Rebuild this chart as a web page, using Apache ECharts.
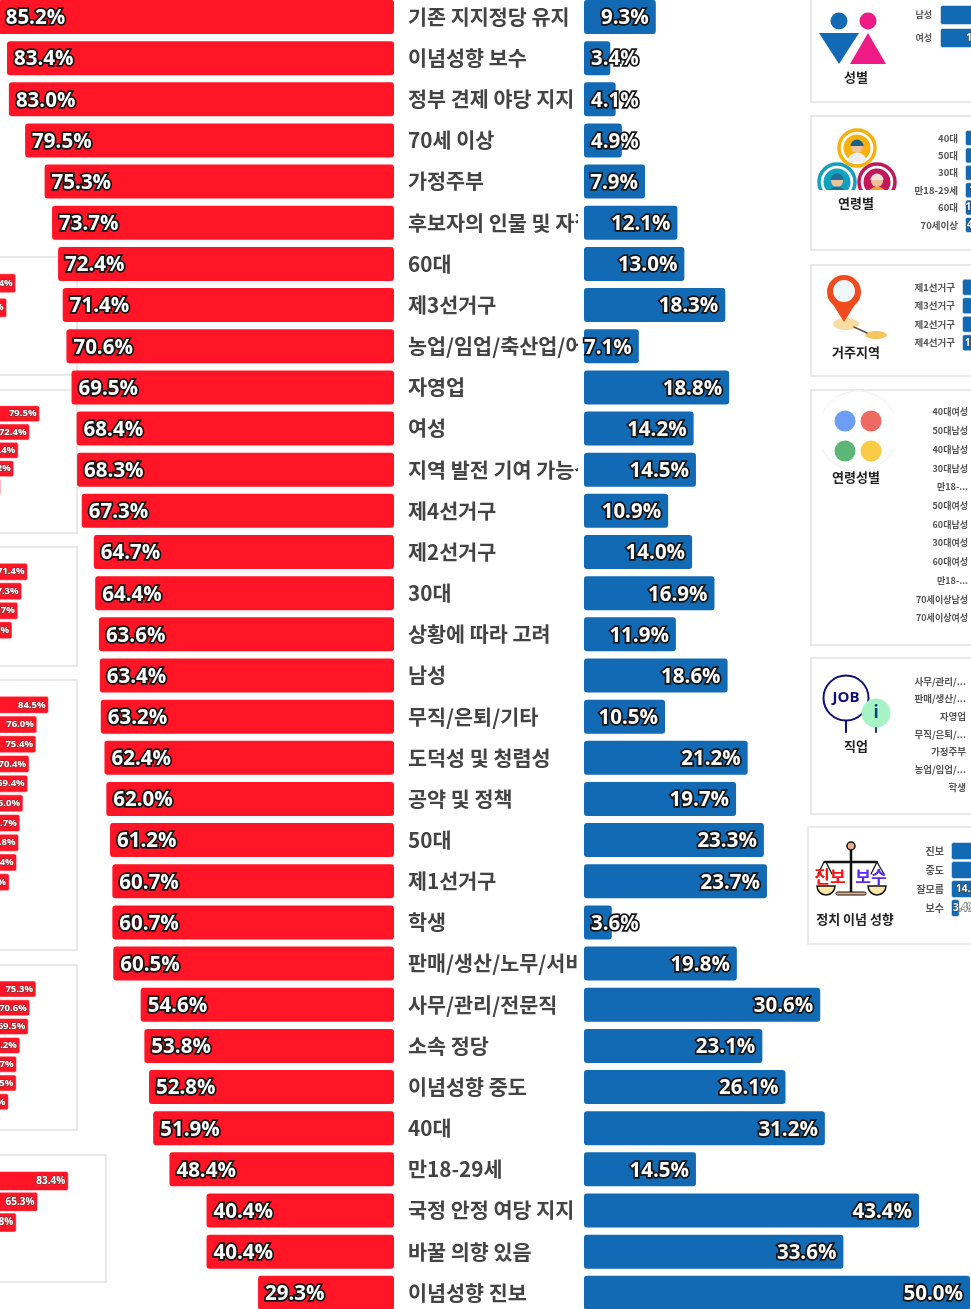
<!DOCTYPE html>
<html>
<head>
<meta charset="utf-8">
<title>chart</title>
<style>
html, body { margin: 0; padding: 0; background: #fff; overflow: hidden; }
#main { width: 971px; height: 1309px; }
</style>
<script src="https://cdn.jsdelivr.net/npm/echarts@6/dist/echarts.min.js"></script>
</head>
<body>
<div id="main"></div>
<script>
// main table
var categories = ['기존 지지정당 유지','이념성향 보수','정부 견제 야당 지지','70세 이상','가정주부','후보자의 인물 및 자질','60대','제3선거구','농업/임업/축산업/어업','자영업','여성','지역 발전 기여 가능성','제4선거구','제2선거구','30대','상황에 따라 고려','남성','무직/은퇴/기타','도덕성 및 청렴성','공약 및 정책','50대','제1선거구','학생','판매/생산/노무/서비스','사무/관리/전문직','소속 정당','이념성향 중도','40대','만18-29세','국정 안정 여당 지지','바꿀 의향 있음','이념성향 진보'];
var redValues = [85.2,83.4,83.0,79.5,75.3,73.7,72.4,71.4,70.6,69.5,68.4,68.3,67.3,64.7,64.4,63.6,63.4,63.2,62.4,62.0,61.2,60.7,60.7,60.5,54.6,53.8,52.8,51.9,48.4,40.4,40.4,29.3];
var blueValues = [9.3,3.4,4.1,4.9,7.9,12.1,13.0,18.3,7.1,18.8,14.2,14.5,10.9,14.0,16.9,11.9,18.6,10.5,21.2,19.7,23.3,23.7,3.6,19.8,30.6,23.1,26.1,31.2,14.5,43.4,33.6,50.0];

// small panels on the right
var genderCats = ['남성','여성'];
var genderVals = [18.6,14.2];
var ageCats = ['40대','50대','30대','만18-29세','60대','70세이상'];
var ageVals = [31.2,23.3,16.9,14.5,13.0,4.9];
var regionCats = ['제1선거구','제3선거구','제2선거구','제4선거구'];
var regionVals = [23.7,18.3,14.0,10.9];
var ageGenderCats = ['40대여성','50대남성','40대남성','30대남성','만18-...','50대여성','60대남성','30대여성','60대여성','만18-...','70세이상남성','70세이상여성'];
var ageGenderVals = [33.5,28.9,28.6,19.8,17.1,15.9,15.0,13.8,11.1,10.5,5.6,4.2];
var jobCats = ['사무/관리/...','판매/생산/...','자영업','무직/은퇴/...','가정주부','농업/임업/...','학생'];
var jobVals = [30.6,19.8,18.8,10.5,7.9,7.1,3.6];
var ideologyCats = ['진보','중도','잘모름','보수'];
var ideologyVals = [50.0,26.1,14.5,3.4];

// small panels on the left (cut by the page edge)
var genderRed = [68.4,63.4];
var ageRed = [79.5,72.4,64.4,61.2,51.9,48.4];
var regionRed = [71.4,67.3,64.7,60.7];
var ageGenderRed = [84.5,76.0,75.4,70.4,69.4,66.0,63.7,62.8,61.4,56.0,47.6,44.8];
var jobRed = [75.3,70.6,69.5,63.2,60.7,60.5,54.6];
var ideologyRed = [83.4,65.3,52.8,29.3];

var RED = '#ff1525';
var BLUE = '#126ab4';
var pct = function (p) { return p.value.toFixed(1) + '%'; };

var grids = [], xAxes = [], yAxes = [], series = [];

function addChart(c) {
    var i = grids.length;
    // grids run past the page edge on purpose, v6 would shrink them otherwise
    grids.push({ left: c.left, top: c.top, width: c.scale * 100, height: c.height, outerBoundsMode: 'none' });
    xAxes.push({ gridIndex: i, type: 'value', min: 0, max: 100, show: false, inverse: !!c.inverse });
    yAxes.push({
        gridIndex: i, type: 'category', inverse: true, data: c.cats || c.vals.map(String),
        show: !!c.cats,
        axisLine: { show: false }, axisTick: { show: false },
        axisLabel: c.axisLabel
    });
    series.push({
        type: 'bar', xAxisIndex: i, yAxisIndex: i, z: c.z || 2, barWidth: c.barWidth, silent: true,
        itemStyle: { color: c.color, borderRadius: c.radius || 2, borderColor: 'rgba(255,255,255,0.5)', borderWidth: c.main ? 0 : 1 },
        label: c.label,
        data: c.vals.map(function (v) {
            if (c.smallLabel && v < 5) return { value: v, label: c.smallLabel };
            return v;
        })
    });
}

function miniRight(left, top, height, scale, barWidth, cats, vals, margin, size) {
    addChart({
        left: left, top: top, height: height, scale: scale, barWidth: barWidth,
        cats: cats, vals: vals, color: BLUE,
        axisLabel: { margin: margin, fontFamily: 'Noto Sans CJK KR', fontSize: size, fontWeight: 'bold', color: '#555', interval: 0 },
        label: { show: true, position: 'insideRight', distance: 3, formatter: pct, fontFamily: 'Open Sans', fontWeight: 'bold', fontSize: 10, color: '#fff', textBorderColor: 'rgba(60,60,60,0.7)', textBorderWidth: 1.5 },
        smallLabel: { position: 'insideLeft', distance: 2 }
    });
}

function miniLeft(left, top, height, scale, barWidth, vals, size) {
    addChart({
        left: left, top: top, height: height, scale: scale, barWidth: barWidth,
        vals: vals, color: RED,
        label: { show: true, position: 'insideRight', distance: 3.5, formatter: pct, fontFamily: 'Open Sans', fontWeight: 'bold', fontSize: size, color: '#fff', textBorderColor: 'rgba(70,70,70,0.65)', textBorderWidth: 1.5 }
    });
}

miniRight(940, 3.5, 46, 4.1, 20, genderCats, genderVals, 8, 9);
miniRight(965, 129.3, 104.4, 2.5, 16, ageCats, ageVals, 7, 9.5);
miniRight(962, 278, 74, 3.2, 17, regionCats, regionVals, 7, 9.5);
miniRight(974, 402.6, 224.7, 6, 16, ageGenderCats, ageGenderVals, 6, 9);
miniRight(974, 672.2, 123.7, 6, 16, jobCats, jobVals, 8, 9.5);
miniRight(951, 841.5, 76, 2.55, 18, ideologyCats, ideologyVals, 7, 10);

miniLeft(-107, 271, 49, 1.8, 20, genderRed, 9.5);
miniLeft(-72.1, 404.5, 110, 1.41, 17, ageRed, 9.5);
miniLeft(-75.5, 562, 78, 1.45, 18, regionRed, 9.5);
miniLeft(-67.6, 695, 236.4, 1.38, 18, ageGenderRed, 9.5);
miniLeft(-63.7, 979.6, 131.6, 1.33, 17, jobRed, 9.5);
miniLeft(-73, 1170.6, 83.2, 1.7, 20, ideologyRed, 10);

var bigLabel = { show: true, distance: 7, offset: [0, 1.5], formatter: pct, fontFamily: 'Open Sans', fontWeight: 'bold', fontSize: 20.5, color: '#fff', textBorderColor: '#151515', textBorderWidth: 3.5 };

addChart({
    left: -70, top: -3.6, height: 1317, scale: 4.64, barWidth: 34, main: true, radius: 3, z: 3,
    inverse: true, vals: redValues, color: RED,
    label: Object.assign({ position: 'insideLeft' }, bigLabel)
});
addChart({
    left: 584, top: -3.6, height: 1317, scale: 7.72, barWidth: 34, main: true, radius: 3, z: 3,
    vals: blueValues, cats: categories, color: BLUE,
    axisLabel: { margin: 176, align: 'left', interval: 0, fontFamily: 'Noto Sans CJK KR', fontSize: 20.7, fontWeight: 'bold', color: '#444' },
    label: Object.assign({ position: 'insideRight' }, bigLabel),
    smallLabel: { position: 'insideLeft', distance: 7 }
});

// panel frames, icons and the strip that cuts the long row labels
function panel(x, y, w, h) {
    return { type: 'rect', z: -1, shape: { x: x, y: y, width: w, height: h }, style: { fill: '#fff', stroke: '#e2e2e2', lineWidth: 1.5 } };
}
function title(x, y, text) {
    return { type: 'text', z: 4, x: x, y: y, style: { text: text, fill: '#222', font: 'bold 13px "Noto Sans CJK KR"', align: 'center', verticalAlign: 'middle' } };
}
function circle(cx, cy, r, fill, stroke, lw) {
    return { type: 'circle', z: 4, shape: { cx: cx, cy: cy, r: r }, style: { fill: fill || 'none', stroke: stroke, lineWidth: lw || 0 } };
}
function poly(points, fill) {
    return { type: 'polygon', z: 4, shape: { points: points }, style: { fill: fill } };
}
function line(x1, y1, x2, y2, color, lw) {
    return { type: 'line', z: 4, shape: { x1: x1, y1: y1, x2: x2, y2: y2 }, style: { stroke: color, lineWidth: lw, lineCap: 'round' } };
}
function arc(cx, cy, r, a0, a1, color, lw) {
    return { type: 'arc', z: 4, shape: { cx: cx, cy: cy, r: r, startAngle: a0, endAngle: a1 }, style: { stroke: color, lineWidth: lw, fill: 'none' } };
}
function bowl(cx, cy, r) {
    return { type: 'sector', z: 4, shape: { cx: cx, cy: cy, r0: 0, r: r, startAngle: 0, endAngle: Math.PI }, style: { fill: '#fbe8a6', stroke: '#111', lineWidth: 1.5 } };
}
function face(cx, cy, ring, hair, shirt) {
    return [
        circle(cx, cy, 18, '#fff', ring, 3.5),
        circle(cx, cy, 13.5, ring),
        circle(cx, cy - 1, 6, '#edc29b'),
        { type: 'sector', z: 4, shape: { cx: cx, cy: cy - 2, r0: 0, r: 6.5, startAngle: Math.PI, endAngle: 0 }, style: { fill: hair } },
        { type: 'sector', z: 4, shape: { cx: cx, cy: cy + 14, r0: 0, r: 9.5, startAngle: Math.PI, endAngle: 0 }, style: { fill: shirt } }
    ];
}

var elements = [
    { type: 'rect', z: 1, shape: { x: 578, y: 0, width: 225, height: 1309 }, style: { fill: '#fff' } },

    panel(811, -2, 170, 104), panel(811, 116, 170, 134), panel(811, 265, 170, 111),
    panel(811, 390, 170, 255), panel(811, 658, 170, 156), panel(808, 827, 173, 117),
    panel(-10, 257, 87, 118), panel(-10, 390, 87, 143), panel(-10, 547, 87, 119),
    panel(-10, 680, 87, 270), panel(-10, 965, 87, 165), panel(-10, 1155, 116, 127),

    // 성별
    circle(839, 21, 8.5, '#126ab4'), circle(868, 21, 8.5, '#ee1a85'),
    poly([[819, 33], [859, 33], [839, 64]], '#126ab4'),
    poly([[868, 33], [886, 64], [850, 64]], '#ee1a85'),
    title(856, 77, '성별')
];
// 연령별: the lower faces are cut off flat by a white strip
elements = elements.concat(face(837, 182, '#12a0bf', '#1d6f96', '#1d6f96'), face(877, 182, '#c2185b', '#f1e5d8', '#f5a623'));
elements.push({ type: 'rect', z: 4, shape: { x: 815, y: 190, width: 85, height: 12 }, style: { fill: '#fff' } });
elements = elements.concat(face(857, 148, '#f7b10e', '#17618e', '#eeeeee'));
elements.push(
    title(856, 203, '연령별'),

    // 거주지역
    { type: 'ellipse', z: 4, shape: { cx: 846, cy: 324, rx: 13, ry: 6 }, style: { fill: '#f8dca0' } },
    { type: 'ellipse', z: 4, shape: { cx: 876, cy: 335, rx: 11, ry: 4 }, style: { fill: '#f5c660' } },
    line(854, 327, 867, 333, '#555', 1.5),
    poly([[829, 298], [859, 298], [844, 322]], '#f04a1e'),
    circle(844, 292, 17, '#f04a1e'),
    circle(844, 291, 11, '#eef8fb'),
    title(856, 352, '거주지역'),

    // 연령성별
    arc(858, 431, 40, Math.PI * 0.15, Math.PI * 0.85, '#f0f0f0', 1),
    arc(858, 431, 40, Math.PI * 1.15, Math.PI * 1.85, '#f2f2f2', 1),
    circle(845, 421, 10.5, '#6d9ef5'), circle(871, 421, 10.5, '#ee6a62'),
    circle(845, 451, 10.5, '#5cb776'), circle(871, 451, 10.5, '#fccb45'),
    title(856, 477, '연령성별'),

    // 직업
    circle(846, 698, 22.5, '#fff', '#0f0f78', 2),
    line(846, 721, 846, 732, '#0f0f78', 2),
    { type: 'text', z: 4, x: 846, y: 698, style: { text: 'JOB', fill: '#0f0f78', font: 'bold 15px "Open Sans"', align: 'center', verticalAlign: 'middle' } },
    circle(876, 713, 14.5, '#a6f3c6'),
    { type: 'text', z: 4, x: 876, y: 713, style: { text: 'i', fill: '#0f3f78', font: 'bold 17px "Open Sans"', align: 'center', verticalAlign: 'middle' } },
    line(876, 728, 876, 732, '#0f3f78', 2),
    title(856, 746, '직업'),

    // 정치 이념 성향
    line(851, 850, 851, 892, '#111', 2.5),
    line(825, 862, 877, 862, '#111', 2.5),
    circle(851, 846, 4, '#e8b08c', '#111', 1.5),
    line(824, 862, 818, 874, '#111', 1.2), line(826, 862, 832, 874, '#111', 1.2),
    line(877, 862, 871, 874, '#111', 1.2), line(877, 862, 884, 874, '#111', 1.2),
    bowl(826, 886, 9),
    bowl(877, 886, 9),
    { type: 'rect', z: 4, shape: { x: 836, y: 892, width: 30, height: 3, r: 1.5 }, style: { fill: '#e8b08c', stroke: '#111', lineWidth: 1 } },
    { type: 'text', z: 5, x: 830, y: 877, style: { text: '진보', fill: '#ff1010', font: 'bold 17px "Noto Sans CJK KR"', align: 'center', verticalAlign: 'middle' } },
    { type: 'text', z: 5, x: 871, y: 877, style: { text: '보수', fill: '#5a28f0', font: 'bold 17px "Noto Sans CJK KR"', align: 'center', verticalAlign: 'middle' } },
    title(855, 919, '정치 이념 성향')
);

var myChart = echarts.init(document.getElementById('main'), null, { renderer: 'canvas' });
myChart.setOption({
    animation: false,
    backgroundColor: '#fff',
    grid: grids,
    xAxis: xAxes,
    yAxis: yAxes,
    series: series,
    graphic: { elements: elements }
});
</script>
</body>
</html>
